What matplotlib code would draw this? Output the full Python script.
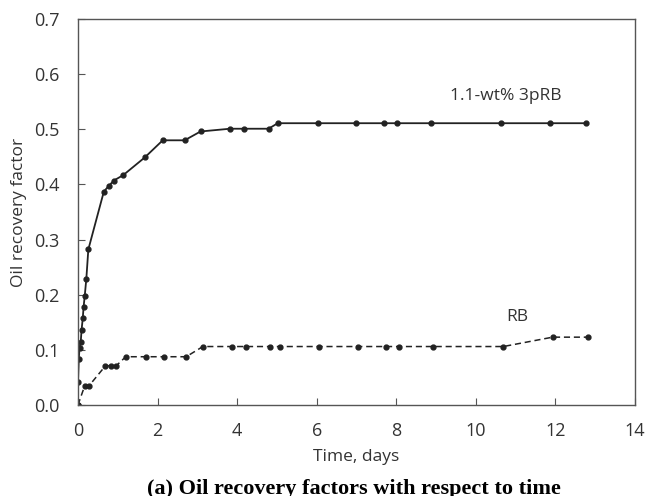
import matplotlib.pyplot as plt

# 1.1-wt% 3pRB (solid)
t_3prb = [0, 0.0, 0.02, 0.04, 0.07, 0.09, 0.12, 0.14, 0.17, 0.21, 0.26,
          0.65, 0.77, 0.90, 1.14, 1.68, 2.13, 2.68, 3.08, 3.82, 4.17,
          4.79, 5.02, 6.04, 6.99, 7.68, 8.01, 8.88, 10.63, 11.87, 12.77]
rf_3prb = [0, 0.041, 0.083, 0.104, 0.115, 0.136, 0.157, 0.177, 0.198, 0.229, 0.282,
           0.387, 0.397, 0.407, 0.417, 0.449, 0.480, 0.480, 0.496, 0.501, 0.501,
           0.501, 0.511, 0.511, 0.511, 0.511, 0.511, 0.511, 0.511, 0.511, 0.511]

# RB (dashed)
t_rb = [0, 0.17, 0.28, 0.69, 0.82, 0.96, 1.20, 1.72, 2.17, 2.72, 3.14, 3.87, 4.22,
        4.83, 5.07, 6.07, 7.04, 7.73, 8.08, 8.92, 10.69, 11.93, 12.83]
rf_rb = [0, 0.035, 0.035, 0.071, 0.071, 0.071, 0.0875, 0.0875, 0.0875, 0.0875,
         0.106, 0.106, 0.106, 0.106, 0.106, 0.106, 0.106, 0.106, 0.106, 0.106,
         0.106, 0.123, 0.123]

plt.rcParams['font.family'] = ['Open Sans', 'DejaVu Sans']

fig = plt.figure(figsize=(6.45, 4.96), dpi=100)
ax = fig.add_axes([0.1209, 0.1835, 0.8636, 0.7782])

col = '#222222'
ax.plot(t_3prb, rf_3prb, '-o', color=col, lw=1.3, ms=3.5)
ax.plot(t_rb, rf_rb, '--o', color=col, lw=1.1, ms=3.5, dashes=(4, 2.5))

ax.set_xlim(0, 14)
ax.set_ylim(0, 0.7)
ax.set_xticks(range(0, 15, 2))
ax.set_yticks([i / 10 for i in range(8)])
ax.set_yticklabels([f'{i / 10:.1f}' for i in range(8)])
ax.tick_params(direction='in', length=5, width=0.8, colors='#555555',
               labelcolor='#333333', labelsize=13)
ax.tick_params(axis='y', pad=13)
ax.tick_params(axis='x', pad=12)
for s in ax.spines.values():
    s.set_color('#555555')
    s.set_linewidth(1.0)

ax.set_xlabel('Time, days', fontsize=12.5, color='#333333', labelpad=7)
ax.set_ylabel('Oil recovery factor', fontsize=12.5, color='#333333', labelpad=5)

ax.text(10.75, 0.561, '1.1-wt% 3pRB', fontsize=12.5, color='#333333', ha='center', va='center')
ax.text(11.03, 0.160, 'RB', fontsize=12.5, color='#333333', ha='center', va='center')

fig.text(0.548, 0.004, '(a) Oil recovery factors with respect to time', ha='center',
         va='baseline', fontsize=16, fontweight='bold', family='Liberation Serif')

fig.savefig('out.png')
